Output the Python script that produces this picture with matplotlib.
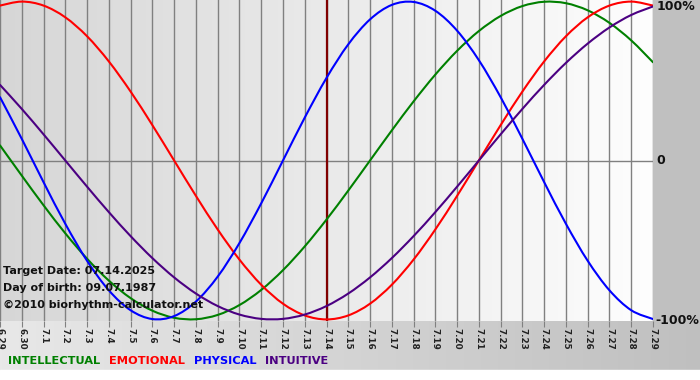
import numpy as np
import matplotlib
matplotlib.use("Agg")
import matplotlib.pyplot as plt
from matplotlib.path import Path
from matplotlib.patches import PathPatch

dates = ["6.29", "6.30"] + ["7.%d" % i for i in range(1, 30)]

intellectual = [0.0951, -0.0951, -0.2817, -0.4582, -0.6182, -0.7557, -0.8660, -0.9450, -0.9898, -0.9989,
                -0.9718, -0.9096, -0.8146, -0.6901, -0.5406, -0.3717, -0.1893, 0.0, 0.1893, 0.3717,
                0.5406, 0.6901, 0.8146, 0.9096, 0.9718, 0.9989, 0.9898, 0.9450, 0.8660, 0.7557, 0.6182]
emotional = [0.9749, 1.0, 0.9749, 0.9010, 0.7818, 0.6235, 0.4339, 0.2225, 0.0, -0.2225,
             -0.4339, -0.6235, -0.7818, -0.9010, -0.9749, -1.0, -0.9749, -0.9010, -0.7818, -0.6235,
             -0.4339, -0.2225, 0.0, 0.2225, 0.4339, 0.6235, 0.7818, 0.9010, 0.9749, 1.0, 0.9749]
physical = [0.3984, 0.1362, -0.1362, -0.3984, -0.6311, -0.8170, -0.9423, -0.9977, -0.9791, -0.8879,
            -0.7308, -0.5196, -0.2698, 0.0, 0.2698, 0.5196, 0.7308, 0.8879, 0.9791, 0.9977,
            0.9423, 0.8170, 0.6311, 0.3984, 0.1362, -0.1362, -0.3984, -0.6311, -0.8170, -0.9423, -0.9977]
intuitive = [0.4759, 0.3247, 0.1646, 0.0, -0.1646, -0.3247, -0.4759, -0.6142, -0.7357, -0.8372,
             -0.9158, -0.9694, -0.9966, -0.9966, -0.9694, -0.9158, -0.8372, -0.7357, -0.6142, -0.4759,
             -0.3247, -0.1646, 0.0, 0.1646, 0.3247, 0.4759, 0.6142, 0.7357, 0.8372, 0.9158, 0.9694]

target_index = 15
y_labels = ["100%", "0", "-100%"]
y_values = [1.0, 0.0, -1.0]
legend_names = ["INTELLECTUAL", "EMOTIONAL", "PHYSICAL", "INTUITIVE"]
colors = ["#008000", "#ff0000", "#0000ff", "#4b0082"]
info_lines = ["Target Date: 07.14.2025", "Day of birth: 09.07.1987", "\u00a92010 biorhythm-calculator.net"]

W, H = 700, 380
fig = plt.figure(figsize=(W / 100, H / 100), dpi=100)

# figure background gradient
bg = fig.add_axes([0, 0, 1, 1], zorder=-10)
grad = np.linspace(0, 1, 256)
row = np.interp(grad, [0, 1], [0.91, 0.75])
img = np.tile(row, (2, 1))
bg.imshow(np.dstack([img, img, img]), aspect="auto", extent=[0, 1, 0, 1], origin="lower")
bg.axhspan(0, 10 / H, color="white")
bg.set_xlim(0, 1); bg.set_ylim(0, 1)
bg.axis("off")
bg.axvspan(653 / W, 1, ymin=59 / H, ymax=1, color="#c0c0c0")

x = np.arange(len(dates))
ax = fig.add_axes([0, 59 / H, 653 / W, 321 / H])
ax.set_xlim(0, len(dates) - 1)
ax.set_ylim(-1.01, 1.01)

pg = np.interp(np.linspace(0, 1, 256), [0, 1], [0.84, 0.995])
pimg = np.tile(pg, (2, 1))
ax.imshow(np.dstack([pimg, pimg, pimg]), aspect="auto", extent=[0, len(dates) - 1, -1.01, 1.01],
          origin="lower", zorder=0)

for xi in x:
    ax.axvline(xi, color="#808080", lw=1.0, zorder=1)
ax.axhline(0, color="#808080", lw=1.0, zorder=1)
ax.axvline(target_index, color="#800000", lw=1.6, zorder=2)


def smooth_path(xs, ys):
    # Catmull-Rom spline through the daily points, drawn as cubic Bezier segments
    pts = np.column_stack([xs, ys]).astype(float)
    n = len(pts)
    verts = [pts[0]]
    codes = [Path.MOVETO]
    for i in range(n - 1):
        p0 = pts[i - 1] if i > 0 else pts[i]
        p1 = pts[i]
        p2 = pts[i + 1]
        p3 = pts[i + 2] if i + 2 < n else pts[i + 1]
        c1 = p1 + (p2 - p0) / 6.0
        c2 = p2 - (p3 - p1) / 6.0
        verts += [c1, c2, p2]
        codes += [Path.CURVE4] * 3
    return Path(verts, codes)


for series, c in zip([intellectual, emotional, physical, intuitive], colors):
    patch = PathPatch(smooth_path(x, series), facecolor="none", edgecolor=c, lw=1.5,
                      zorder=3, capstyle="round", joinstyle="round")
    ax.add_patch(patch)

for spine in ax.spines.values():
    spine.set_visible(False)
ax.set_yticks([])
ax.set_xticks(x)
ax.set_xticklabels(dates, rotation=270, fontsize=6.3, fontweight="bold", color="#222222")
ax.tick_params(axis="x", length=4, color="#808080", pad=1)

label_px = [7, 161, 321]
label_x = [657, 656, 655]
for lbl, py, px in zip(y_labels, label_px, label_x):
    fig.text(px / W, 1 - py / H, lbl, fontsize=9, fontweight="bold",
             va="center", ha="left", color="#111111")

for i, t in enumerate(info_lines):
    fig.text(3 / W, 1 - (271 + i * 17) / H, t, fontsize=8, fontweight="bold",
             va="center", ha="left", color="#111111")

xpos = 8
for name, c in zip(legend_names, colors):
    t = fig.text(xpos / W, 1 - 361 / H, name, fontsize=8.2, fontweight="bold", color=c,
                 va="center", ha="left")
    fig.canvas.draw()
    bb = t.get_window_extent()
    xpos += bb.width + 9

fig.savefig("out.png", dpi=100)
